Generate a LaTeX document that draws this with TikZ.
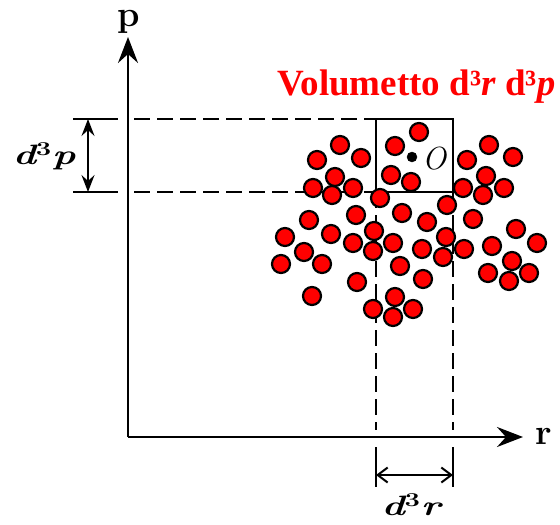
\documentclass[tikz,border=0pt]{standalone}
\usepackage{fontspec}
\usepackage{graphicx}
\usetikzlibrary{arrows.meta}
\newfontfamily\titlefont{Liberation Serif}
\definecolor{dotred}{RGB}{255,0,0}

\tikzset{
  axis/.style={line width=2.8pt, -{Stealth[length=26pt,width=20pt,inset=9pt]}},
  guide/.style={line width=2.2pt, dash pattern=on 16pt off 7pt},
  tickline/.style={line width=2.2pt},
  spanp/.style={line width=2pt, {Stealth[length=17pt,width=13pt,inset=6pt]}-{Stealth[length=17pt,width=13pt,inset=6pt]}},
  spanr/.style={line width=2pt, {Straight Barb[length=10pt,width=15pt,line width=2pt]}-{Straight Barb[length=10pt,width=15pt,line width=2pt]}},
  reddot/.style={fill=dotred, draw=black, line width=2.2pt},
  lbl/.style={inner sep=0pt, font=\fontsize{36}{40}\selectfont},
  difflbl/.style={inner sep=0pt, font=\fontsize{28}{32}\selectfont\bfseries\itshape},
  titlelbl/.style={inner sep=0pt, text=dotred, font=\titlefont\bfseries\fontsize{37}{42}\selectfont},
}
\newcommand{\diffsym}[1]{\scalebox{1.4}[1]{d\textsuperscript{\upshape 3}#1}}

\begin{document}
\begin{tikzpicture}[x=1pt, y=-1pt]
  \useasboundingbox (0,0) rectangle (560,525);

  % Axes
  \coordinate (origin) at (128,437);
  \coordinate (ptip) at (128,37);
  \coordinate (rtip) at (523,437);
  \draw[axis] (origin) -- (ptip);
  \draw[axis] (origin) -- (rtip);
  \node[lbl] (plabel) at (129,22) {\textbf{p}};
  \node[lbl] (rlabel) at (544,436) {\textbf{r}};

  % Cell in phase space
  \coordinate (boxnw) at (376,119);
  \coordinate (boxse) at (453,192);
  \coordinate (boxsw) at (376,192);
  \coordinate (boxne) at (453,119);

  % Dashed projections onto the axes
  \draw[guide] (134,119) -- (boxnw);
  \draw[guide] (134,192) -- (boxsw);
  \draw[guide] (boxsw) -- (376,430);
  \draw[guide] (boxse) -- (453,430);

  % Marks for d^3p
  \coordinate (ptop) at (88,119);
  \coordinate (pbot) at (88,192);
  \draw[tickline] (73,119) -- (118,119);
  \draw[tickline] (73,192) -- (118,192);
  \draw[spanp] (ptop) -- (pbot);
  \node[difflbl] (dplabel) at (44,156) {\diffsym{p}};

  % Marks for d^3r
  \coordinate (rleft) at (376,475);
  \coordinate (rright) at (453,475);
  \draw[tickline] (376,447) -- (376,487);
  \draw[tickline] (453,447) -- (453,487);
  \draw[spanr] (rleft) -- (rright);
  \node[difflbl] (drlabel) at (411,505) {\diffsym{r}};

  \draw[line width=2.8pt] (boxnw) rectangle (boxse);

  % Particles
  \foreach \x/\y in {419/132,340/145,395/146,317/160,361/158,489/145,467/160,513/157,
                     391/175,411/182,335/177,486/176,313/188,353/188,463/188,504/188,
                     332/195,380/198,483/195,447/205,356/215,402/213,427/222,309/220,
                     473/219,374/231,516/229,285/237,331/234,446/237,537/243,353/243,
                     393/243,373/251,422/249,464/249,492/246,304/252,443/257,512/261,
                     281/264,322/264,400/266,488/273,529/273,509/281,423/279,357/282,
                     312/296,395/297,373/309,413/309,393/317}
    \filldraw[reddot] (\x,\y) circle (9pt);

  % Point O
  \filldraw[black] (412,157) circle (5pt);
  \node[inner sep=0pt, font=\fontsize{32}{36}\selectfont\itshape] (olabel) at (434,159) {O};

  % Title
  \node[titlelbl, anchor=base west] (title) at (277,95) {Volumetto d³\textit{r} d³\textit{p}};
\end{tikzpicture}
\end{document}
